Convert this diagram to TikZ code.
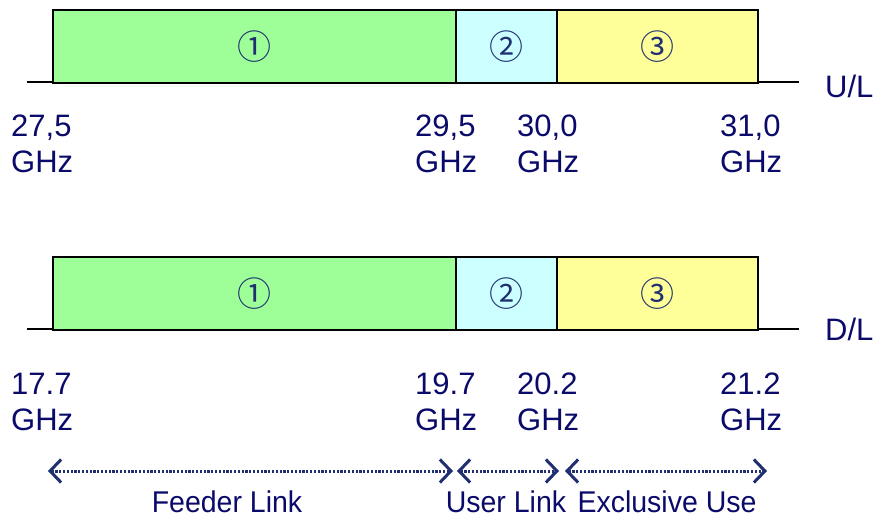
\documentclass[tikz,border=0pt]{standalone}
\usepackage{fontspec}
\setmainfont{Liberation Sans}
\newfontfamily\symfont{Noto Sans CJK JP}
\usetikzlibrary{arrows.meta}
\definecolor{navy}{HTML}{0A0A6A}
\definecolor{numblue}{HTML}{1F2F70}
\definecolor{bandgreen}{HTML}{9EFF99}
\definecolor{bandcyan}{HTML}{CCFFFF}
\definecolor{bandyellow}{HTML}{FFFF99}
\begin{document}
\begin{tikzpicture}[x=1pt,y=-1pt,
  band/.style={draw=black, line width=2pt, minimum height=73pt, inner sep=0pt,
    anchor=north west, font=\symfont\fontsize{34}{34}\selectfont, text=numblue},
  axisline/.style={draw=black, line width=2pt},
  freq/.style={anchor=north west, inner sep=0pt, align=left, text=navy,
    font=\fontsize{31}{36}\selectfont},
  side/.style={anchor=north west, inner sep=0pt, text=navy,
    font=\fontsize{31}{36}\selectfont},
  linklabel/.style={anchor=north, inner sep=0pt, text=navy, xscale=0.95,
    font=\fontsize{30}{36}\selectfont},
  linkarrow/.style={draw=numblue, line width=3pt, dash pattern=on 2.2pt off 1.6pt,
    {Straight Barb[length=11pt,width=23pt,line width=3pt]}-{Straight Barb[length=11pt,width=23pt,line width=3pt]}}
]
\useasboundingbox (0,0) rectangle (875,518);

% ---------- U/L band ----------
\draw[axisline] (27,82) coordinate (ul0) -- (799,82) coordinate (ul1);
\node[band, fill=bandgreen,  minimum width=403pt] (u1) at (52,9)  {①};
\node[band, fill=bandcyan,   minimum width=101pt] (u2) at (455,9) {②};
\node[band, fill=bandyellow, minimum width=201pt] (u3) at (556,9) {③};
\node[side] (ul) at (825,75) {U/L};

\node[freq] (f275) at (11,115)  {27,5\\GHz};
\node[freq] (f295) at (415,115) {29,5\\GHz};
\node[freq] (f300) at (517,115) {30,0\\GHz};
\node[freq] (f310) at (720,115) {31,0\\GHz};

% ---------- D/L band ----------
\draw[axisline] (27,329) coordinate (dl0) -- (799,329) coordinate (dl1);
\node[band, fill=bandgreen,  minimum width=403pt] (d1) at (52,256)  {①};
\node[band, fill=bandcyan,   minimum width=101pt] (d2) at (455,256) {②};
\node[band, fill=bandyellow, minimum width=201pt] (d3) at (556,256) {③};
\node[side] (dl) at (825,318) {D/L};

\node[freq] (f177) at (11,373)  {17.7\\GHz};
\node[freq] (f197) at (415,373) {19.7\\GHz};
\node[freq] (f202) at (517,373) {20.2\\GHz};
\node[freq] (f212) at (720,373) {21.2\\GHz};

% ---------- link ranges ----------
\coordinate (a1) at (48,471);
\coordinate (a2) at (453,471);
\coordinate (b1) at (457,471);
\coordinate (b2) at (559,471);
\coordinate (c1) at (565,471);
\coordinate (c2) at (767,471);
\draw[linkarrow] (a1) -- (a2);
\draw[linkarrow] (b1) -- (b2);
\draw[linkarrow] (c1) -- (c2);

\node[linklabel] (feeder) at (227,491) {Feeder Link};
\node[linklabel] (user) at (506,491) {User Link};
\node[linklabel] (excl) at (667,491) {Exclusive Use};
\end{tikzpicture}
\end{document}
